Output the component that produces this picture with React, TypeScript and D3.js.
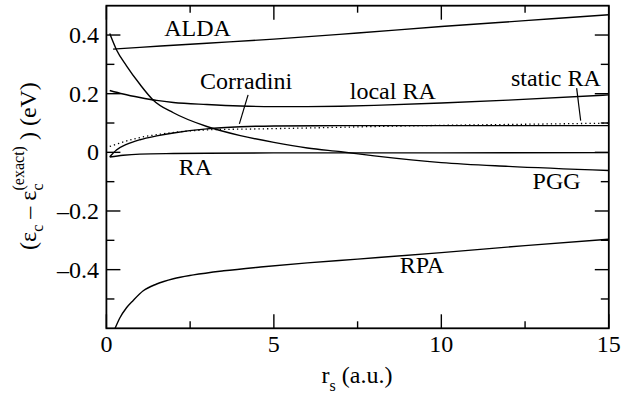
import * as d3 from 'd3';

type Pt = [number, number];

// values: [r_s, eps_c - eps_c(exact)] in eV
const alda: Pt[] = [[0.2, 0.352], [1, 0.358], [2, 0.365], [3, 0.372], [5, 0.386], [7.5, 0.407], [10, 0.429], [12.5, 0.449], [15, 0.469]];
const localRA: Pt[] = [[0.1, 0.211], [0.5, 0.199], [1, 0.187], [1.5, 0.177], [2, 0.17], [3, 0.163], [4, 0.158], [5, 0.156], [6, 0.156], [7, 0.157], [8, 0.16], [10, 0.168], [12, 0.178], [15, 0.196]];
const pgg: Pt[] = [[0.1, 0.405], [0.3, 0.35], [0.6, 0.295], [1, 0.232], [1.4, 0.178], [2, 0.135], [3, 0.088], [4, 0.057], [5, 0.034], [6, 0.015], [7, 0.002], [8, -0.012], [10, -0.035], [12, -0.048], [15, -0.062]];
const corradini: Pt[] = [[0.1, -0.015], [0.3, 0.008], [0.6, 0.027], [1, 0.043], [1.5, 0.056], [2, 0.066], [3, 0.08], [4, 0.087], [5, 0.09], [7, 0.091], [10, 0.091], [15, 0.091]];
const staticRA: Pt[] = [[0.1, 0.02], [0.8, 0.045], [1.8, 0.065], [3.1, 0.077], [4.6, 0.08], [6, 0.083], [8, 0.088], [10, 0.092], [12, 0.095], [15, 0.0995]];
const ra: Pt[] = [[0.1, -0.016], [0.5, -0.01], [1, -0.006], [2, -0.004], [3, -0.003], [5, -0.002], [10, -0.002], [15, -0.001]];
const rpa: Pt[] = [[0.26, -0.6], [0.4, -0.565], [0.6, -0.53], [0.8, -0.505], [1.1, -0.472], [1.5, -0.449], [2, -0.431], [2.6, -0.418], [3.5, -0.404], [4.6, -0.391], [6, -0.377], [7.5, -0.364], [10, -0.342], [12.5, -0.318], [15, -0.296]];

const xTicks = [0, 5, 10, 15];
const xMinor = [2.5, 7.5, 12.5];
const yTicks = [-0.4, -0.2, 0, 0.2, 0.4];
const yMinor = [-0.5, -0.3, -0.1, 0.1, 0.3];

const labels = [
  { t: 'ALDA', rs: 2.72, v: 0.395 },
  { t: 'Corradini', rs: 4.17, v: 0.2165 },
  { t: 'local RA', rs: 8.55, v: 0.182 },
  { t: 'static RA', rs: 13.42, v: 0.227 },
  { t: 'RA', rs: 2.66, v: -0.077 },
  { t: 'PGG', rs: 13.44, v: -0.125 },
  { t: 'RPA', rs: 9.42, v: -0.41 },
];

const pointers: [Pt, Pt][] = [
  [[4.23, 0.196], [3.97, 0.097]],
  [[14.04, 0.219], [14.16, 0.108]],
];

const W = 622;
const H = 402;
const FONT = 'Liberation Serif';

const x = d3.scaleLinear().domain([0, 15]).range([106.4, 608.8]);
const y = d3.scaleLinear().domain([-0.6, 0.5]).range([328.3, 5.7]);

const line = d3.line<Pt>()
  .x(d => x(d[0]))
  .y(d => y(d[1]))
  .curve(d3.curveMonotoneX);

const fmt = (v: number) => (v === 0 ? '0' : (v < 0 ? '\u2013' : '') + Math.abs(v).toFixed(1));

const App = () => {
  const [x0, x1] = x.range();
  const [y0, y1] = y.range();
  const xt = [...xTicks.map(v => ({ v, len: 14 })), ...xMinor.map(v => ({ v, len: 7 }))];
  const yt = [...yTicks.map(v => ({ v, len: 14 })), ...yMinor.map(v => ({ v, len: 8 }))];

  return (
    <svg width={W} height={H} style={{ position: 'absolute', left: 0, top: 0 }}>
      <g fontFamily={FONT} fontSize={24} fill="#000">
        {xTicks.map(v => (
          <text key={'xl' + v} x={x(v)} y={352} textAnchor="middle" fontFamily={FONT}>
            {String(v)}
          </text>
        ))}
        {yTicks.map(v => (
          <text key={'yl' + v} x={99} y={y(v) + 8} textAnchor="end" fontFamily={FONT}>
            {fmt(v)}
          </text>
        ))}
        {labels.map(l => (
          <text key={l.t} x={x(l.rs)} y={y(l.v)} textAnchor="middle" fontFamily={FONT}>
            {l.t}
          </text>
        ))}
        <text x={357} y={383} textAnchor="middle" fontFamily={FONT}>
          <tspan>r</tspan>
          <tspan dy={8} fontSize={16}>s</tspan>
          <tspan dy={-8}> (a.u.)</tspan>
        </text>
        <text transform="translate(36,166) rotate(-90)" textAnchor="middle" fontFamily={FONT}>
          <tspan>(ε</tspan>
          <tspan dy={7} fontSize={16}>c</tspan>
          <tspan dy={-7}> – ε</tspan>
          <tspan dy={7} fontSize={16}>c</tspan>
          <tspan dx={-7} dy={-19} fontSize={16}>(exact)</tspan>
          <tspan dy={12}> ) (eV)</tspan>
        </text>
      </g>

      <g fill="none" stroke="#000">
        {[alda, localRA, pgg, corradini, ra, rpa].map((s, i) => (
          <path key={i} d={line(s) || ''} strokeWidth={1.4} />
        ))}
        <path d={line(staticRA) || ''} strokeWidth={1.3} strokeDasharray="1.3,3" />
      </g>

      <rect x={x0} y={y1} width={x1 - x0} height={y0 - y1} fill="none" stroke="#000" strokeWidth={1.8} />

      <g stroke="#000" strokeWidth={1.4}>
        {xt.map(t => (
          <g key={'x' + t.v}>
            <line x1={x(t.v)} x2={x(t.v)} y1={y0} y2={y0 - t.len} />
            <line x1={x(t.v)} x2={x(t.v)} y1={y1} y2={y1 + t.len} />
          </g>
        ))}
        {yt.map(t => (
          <g key={'y' + t.v}>
            <line y1={y(t.v)} y2={y(t.v)} x1={x0} x2={x0 + t.len} />
            <line y1={y(t.v)} y2={y(t.v)} x1={x1} x2={x1 - t.len} />
          </g>
        ))}
        {pointers.map(([a, b], i) => (
          <line key={'p' + i} x1={x(a[0])} y1={y(a[1])} x2={x(b[0])} y2={y(b[1])} strokeWidth={1.2} />
        ))}
      </g>
    </svg>
  );
};

export default App;
